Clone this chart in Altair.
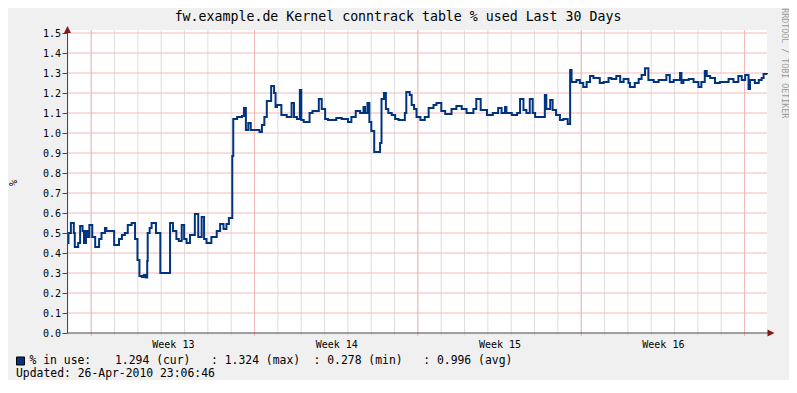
import altair as alt
import pandas as pd

# ---------------- data ----------------
# hours since window start (27-Mar-2010 23:06:46), values in %
hours = [0, 1.5, 4, 7, 8, 11.5, 13.5, 16, 17.5, 19.5, 21.5, 23, 26, 29, 33, 35.5, 39, 40.5,
         48.5, 53.5, 56.5, 59.5, 62.5, 66.5, 70, 72.5, 74.5, 77, 79, 81, 82.5, 83, 85, 87,
         91.5, 96, 106, 109, 112.5, 115, 118, 120.5, 123, 126.5, 131.5, 135, 138.5, 141,
         143.5, 148.5, 154, 157.5, 161, 164, 166.5, 170, 171, 175, 180, 182, 184, 186.5,
         189, 198, 200.5, 203, 205.5, 210, 213, 214.5, 216, 220.5, 226, 231, 233.5, 236.5,
         239.5, 241, 243.5, 249.5, 252.5, 259, 262, 265.5, 268.5, 277, 282.5, 289, 292.5,
         297, 301.5, 305, 306.5, 309, 311, 313, 316, 322, 323.5, 326, 328, 330.5, 334,
         337.5, 341, 347.5, 349, 352.5, 354.5, 357, 359.5, 363.5, 368, 372, 377, 380, 385,
         389, 395.5, 400.5, 406, 411, 418, 421, 425.5, 432, 438, 443.5, 447, 450.5, 452,
         457.5, 463, 466, 469.5, 472.5, 476, 479, 481.5, 491.5, 493, 497, 499.5, 503, 507,
         510.5, 515, 517.5, 519, 524, 527.5, 531, 534.5, 538, 541.5, 548, 552, 557, 560,
         565, 569, 572.5, 577.5, 579, 584, 588, 591, 594.5, 598, 603.5, 608.5, 616.5, 620,
         624, 630.5, 632, 634, 639.5, 644.5, 649.5, 652.5, 656, 658, 661.5, 666.5, 671.5,
         680.5, 685.5, 690.5, 694, 697.5, 701, 702.5, 707.5, 711.5, 714.5, 716.5, 720]
values = [0.45, 0.50, 0.55, 0.50, 0.43, 0.45, 0.535, 0.51, 0.45, 0.51, 0.48, 0.54, 0.48, 0.43,
          0.47, 0.50, 0.525, 0.51, 0.44, 0.47, 0.49, 0.50, 0.54, 0.55, 0.47, 0.365, 0.285,
          0.28, 0.29, 0.278, 0.36, 0.50, 0.525, 0.55, 0.50, 0.30, 0.55, 0.51, 0.47, 0.46,
          0.54, 0.47, 0.45, 0.49, 0.595, 0.48, 0.58, 0.47, 0.45, 0.48, 0.51, 0.545, 0.52,
          0.545, 0.575, 0.885, 1.07, 1.08, 1.085, 1.125, 1.015, 1.05, 1.015, 1.005, 1.04,
          1.08, 1.16, 1.235, 1.20, 1.13, 1.14, 1.09, 1.08, 1.15, 1.08, 1.07, 1.215, 1.065,
          1.055, 1.10, 1.11, 1.17, 1.12, 1.07, 1.065, 1.075, 1.07, 1.055, 1.08, 1.11, 1.10,
          1.13, 1.10, 1.15, 1.055, 1.01, 0.905, 0.95, 1.17, 1.20, 1.12, 1.10, 1.09, 1.07,
          1.065, 1.10, 1.205, 1.19, 1.14, 1.12, 1.08, 1.065, 1.08, 1.125, 1.14, 1.15, 1.11,
          1.095, 1.12, 1.135, 1.12, 1.10, 1.12, 1.17, 1.115, 1.09, 1.10, 1.125, 1.10, 1.13,
          1.10, 1.09, 1.10, 1.17, 1.115, 1.10, 1.17, 1.10, 1.08, 1.19, 1.12, 1.165, 1.115,
          1.09, 1.065, 1.07, 1.045, 1.315, 1.255, 1.265, 1.25, 1.23, 1.255, 1.285, 1.275,
          1.25, 1.255, 1.275, 1.27, 1.285, 1.255, 1.27, 1.25, 1.23, 1.25, 1.27, 1.29, 1.324,
          1.265, 1.255, 1.265, 1.29, 1.255, 1.265, 1.30, 1.25, 1.265, 1.27, 1.255, 1.23,
          1.255, 1.31, 1.285, 1.275, 1.25, 1.255, 1.27, 1.255, 1.285, 1.265, 1.29, 1.22,
          1.265, 1.25, 1.265, 1.275, 1.295, 1.294]

day_grid_hours = [0.9 + 24 * k for k in range(30)]           # midnights
week_grid_hours = [24.9, 192.9, 360.9, 528.9, 696.9]          # Mondays 00:00
week_label_hours = [108.9, 276.9, 444.9, 612.9]               # mid-week
week_labels = ["Week 13", "Week 14", "Week 15", "Week 16"]
y_ticks = [round(0.1 * i, 1) for i in range(16)]

title_text = "fw.example.de Kernel conntrack table % used Last 30 Days"
legend_name = "% in use:"
legend_cur = "1.294 (cur)"
legend_max = ": 1.324 (max)"
legend_min = ": 0.278 (min)"
legend_avg = ": 0.996 (avg)"
updated_text = "Updated: 26-Apr-2010 23:06:46"
watermark = "RRDTOOL / TOBI OETIKER"

FONT = "DejaVu Sans Mono"
LINE_COLOR = "#00347f"
MGRID = "#f2b8b8"
GRID = "#dedede"
AXIS = "#484848"
ARROW = "#7f1a1a"

W, H = 700, 300
xs = alt.Scale(domain=[0, 720], nice=False, zero=False)
ys = alt.Scale(domain=[0, 1.5], nice=False, zero=False)

label_expr = f"{week_labels}[indexof({week_label_hours}, datum.value)]"
x_axis = alt.Axis(
    values=week_label_hours, labelExpr=label_expr, title=None, grid=False,
    domain=False, ticks=False, tickSize=0, labelPadding=14.7,
    labelBaseline="alphabetic", labelFont=FONT, labelFontSize=10,
    labelColor="black", labelFlush=False, labelOverlap=False)
y_axis = alt.Axis(
    values=y_ticks, format=".1f", title=None, grid=False, domain=False,
    ticks=True, tickSize=5, tickColor=AXIS, labelPadding=1.5,
    labelFont=FONT, labelFontSize=10, labelColor="black",
    labelFlush=False, labelOverlap=False)

df = pd.DataFrame({"h": hours, "v": values})
one = pd.DataFrame({"a": [0]})

canvas = alt.Chart(one).mark_rect(color="white").encode(
    x=alt.value(0), x2=alt.value(W), y=alt.value(-3), y2=alt.value(H))

day_grid = alt.Chart(pd.DataFrame({"h": day_grid_hours})).mark_rule(
    color=GRID, strokeWidth=1).encode(
    x=alt.X("h:Q", scale=xs, axis=x_axis), y=alt.value(-3), y2=alt.value(H + 3))

hgrid = alt.Chart(pd.DataFrame({"v": y_ticks[1:]})).mark_rule(
    color=MGRID, strokeWidth=1).encode(
    y=alt.Y("v:Q", scale=ys, axis=y_axis), x=alt.value(0), x2=alt.value(W))

week_grid = alt.Chart(pd.DataFrame({"h": week_grid_hours})).mark_rule(
    color=MGRID, strokeWidth=1).encode(
    x=alt.X("h:Q", scale=xs, axis=x_axis), y=alt.value(-3), y2=alt.value(H + 3))

line = alt.Chart(df).mark_line(
    interpolate="step-after", color=LINE_COLOR, strokeWidth=2).encode(
    x=alt.X("h:Q", scale=xs, axis=x_axis),
    y=alt.Y("v:Q", scale=ys, axis=y_axis))

yaxis_line = alt.Chart(one).mark_rule(color=AXIS, strokeWidth=1).encode(
    x=alt.value(0.5), y=alt.value(-4), y2=alt.value(H))
xaxis_line = alt.Chart(one).mark_rule(color=AXIS, strokeWidth=1).encode(
    x=alt.value(0), x2=alt.value(W + 2), y=alt.value(H))

arrow_up = alt.Chart(one).mark_point(
    shape="M0,-1L1,1L-1,1Z", size=49, filled=True, color=ARROW, opacity=1).encode(
    x=alt.value(0.5), y=alt.value(-3.5))
arrow_right = alt.Chart(one).mark_point(
    shape="M1,0L-1,-1L-1,1Z", size=49, filled=True, color=ARROW, opacity=1).encode(
    x=alt.value(W + 4), y=alt.value(H))


def txt(text, x, y, size, align="left", baseline="alphabetic", angle=0, color="black"):
    return alt.Chart(one).mark_text(
        text=text, font=FONT, fontSize=size, align=align, baseline=baseline,
        angle=angle, color=color).encode(x=alt.value(x), y=alt.value(y))


title = txt(title_text, 331, -12.5, 13.25, align="center")
ytitle = txt("%", -53, 150, 10, align="center", baseline="middle", angle=270)
wm = txt(watermark, 717, 30.3, 8.3, align="center", baseline="middle", angle=90,
         color="#9a9a9a")

legend_box = alt.Chart(one).mark_rect(
    color=LINE_COLOR, stroke="black", strokeWidth=1).encode(
    x=alt.value(-50.5), x2=alt.value(-42.5), y=alt.value(324), y2=alt.value(332))

LY = 330.6
leg = [
    txt(legend_name, -37.5, LY, 11.4),
    txt(legend_cur, 48, LY, 11.4),
    txt(legend_max, 144, LY, 11.4),
    txt(legend_min, 246.5, LY, 11.4),
    txt(legend_avg, 356.2, LY, 11.4),
    txt(updated_text, -51, 344.2, 11.4),
]

chart = alt.layer(
    canvas, day_grid, hgrid, week_grid, line, yaxis_line, xaxis_line,
    arrow_up, arrow_right, title, ytitle, wm, legend_box, *leg
).properties(
    width=W, height=H,
    autosize=alt.AutoSizeParams(type="none"),
    padding={"left": 59, "top": 25, "right": 22, "bottom": 47},
    background="#f0f0f0",
).configure_view(strokeWidth=0, fill=None)

chart.save("out.html", embed_options={"renderer": "svg", "actions": False})
